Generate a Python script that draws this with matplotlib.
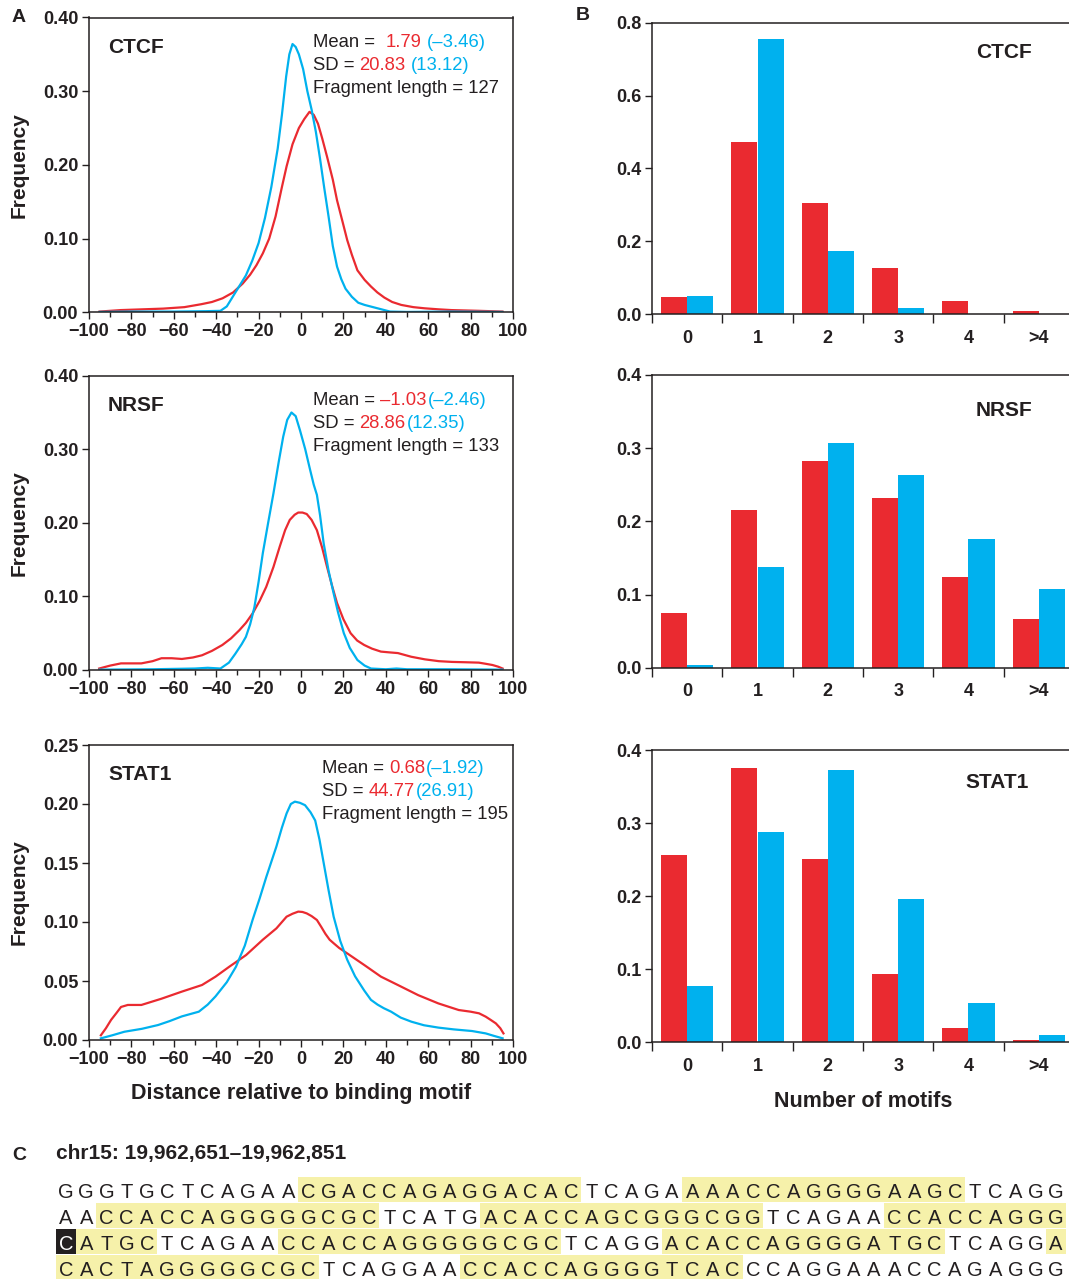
import matplotlib
matplotlib.use('Agg')
import matplotlib.pyplot as plt
from matplotlib.patches import Rectangle
from matplotlib.ticker import MultipleLocator, FixedLocator, FormatStrFormatter, NullFormatter

plt.rcParams['font.family'] = ['Liberation Sans', 'DejaVu Sans']

RED = '#EA2A30'
BLUE = '#00B1EE'
INK = '#231F20'
YELLOW = '#F6F1AA'

# ---- panel A: distance distributions ----
ctcf_red_x = [-95, -85, -75, -65, -55, -47, -42, -37, -32, -27.5, -24, -21, -18, -15, -12, -9, -6.8, -4, -1,
              1.5, 4, 6, 8, 10, 12.3, 15, 17, 19.5, 21.8, 24, 26.6, 30, 33, 36, 39.3, 43, 47.3, 53, 58.4, 65,
              71, 84, 95]
ctcf_red_y = [0.001, 0.003, 0.004, 0.005, 0.007, 0.011, 0.014, 0.019, 0.027, 0.039, 0.051, 0.064, 0.080, 0.100,
              0.130, 0.170, 0.198, 0.228, 0.250, 0.262, 0.272, 0.268, 0.256, 0.236, 0.211, 0.180, 0.152, 0.124,
              0.098, 0.078, 0.057, 0.044, 0.035, 0.027, 0.020, 0.014, 0.010, 0.007, 0.0054, 0.004, 0.003,
              0.002, 0.001]
ctcf_blue_x = [-95, -80, -60, -45, -38, -35, -32, -29, -26, -23, -20, -17, -14, -11, -9, -7, -5.5, -4, -2.5,
               -1, 1, 3, 5, 7, 9, 11, 13, 15, 17, 19, 21, 24, 27, 30, 34, 38, 42, 50, 70, 95]
ctcf_blue_y = [0.0005, 0.001, 0.001, 0.0015, 0.002, 0.008, 0.022, 0.036, 0.050, 0.070, 0.094, 0.128, 0.170,
               0.222, 0.268, 0.320, 0.350, 0.364, 0.360, 0.350, 0.330, 0.300, 0.275, 0.245, 0.208, 0.168, 0.130,
               0.090, 0.062, 0.045, 0.032, 0.021, 0.013, 0.010, 0.007, 0.004, 0.001, 0.0005, 0.001, 0.0005]

nrsf_red_x = [-95.2, -90, -84.9, -75.3, -70, -65.8, -61, -56.2, -51, -46.7, -42, -37.1, -33, -29.1, -26, -22.8,
              -19.5, -16.4, -13, -10, -7.5, -5.3, -3, -1.3, 0.7, 2.7, 5, 7.5, 10, 12.3, 14.7, 17, 20, 23.4,
              26.5, 29.8, 33.5, 37.7, 41.5, 45.7, 52, 58.4, 65, 71.2, 78, 83.9, 87, 90.3, 93, 95.1]
nrsf_red_y = [0.002, 0.006, 0.009, 0.009, 0.012, 0.016, 0.016, 0.015, 0.017, 0.020, 0.026, 0.034, 0.043, 0.054,
              0.064, 0.077, 0.094, 0.113, 0.140, 0.168, 0.190, 0.204, 0.211, 0.214, 0.214, 0.212, 0.204, 0.190,
              0.166, 0.140, 0.114, 0.091, 0.069, 0.050, 0.040, 0.034, 0.029, 0.025, 0.024, 0.023, 0.018,
              0.0145, 0.012, 0.011, 0.0105, 0.010, 0.0085, 0.0068, 0.0045, 0.002]
nrsf_blue_x = [-95, -70, -50, -44, -38, -34, -31, -28, -26, -24, -22, -20, -18, -15.5, -13, -10.5, -8.4, -6.5,
               -4.5, -2.5, -0.5, 2, 4.3, 6, 7.5, 9, 10.7, 13, 15.4, 17.5, 20.2, 23, 26.6, 30, 33, 40, 45, 50,
               70, 95]
nrsf_blue_y = [0.0005, 0.001, 0.002, 0.003, 0.002, 0.010, 0.022, 0.035, 0.045, 0.062, 0.085, 0.120, 0.159,
               0.200, 0.240, 0.283, 0.317, 0.340, 0.350, 0.345, 0.326, 0.300, 0.272, 0.252, 0.238, 0.210, 0.172,
               0.135, 0.104, 0.078, 0.050, 0.030, 0.0136, 0.006, 0.002, 0.001, 0.002, 0.001, 0.001, 0.0005]

stat1_red_x = [-94.4, -92, -89.6, -87, -84.9, -81.7, -75.3, -65.8, -56.2, -46.7, -40.3, -33.9, -25.9, -18,
               -11.6, -6.8, -4, -1.3, 0.7, 2.7, 5, 7.5, 9.5, 11.5, 13.5, 15.4, 18, 21.8, 29.8, 37.7, 45.7,
               55.3, 64.8, 74.4, 80, 84, 87.1, 89.5, 91.9, 94, 95.5]
stat1_red_y = [0.004, 0.010, 0.017, 0.023, 0.028, 0.0297, 0.0297, 0.035, 0.041, 0.0466, 0.0537, 0.062, 0.072,
               0.085, 0.0946, 0.1045, 0.107, 0.1088, 0.1085, 0.1073, 0.105, 0.1017, 0.096, 0.090, 0.085, 0.082,
               0.078, 0.0734, 0.0636, 0.0537, 0.0466, 0.038, 0.031, 0.0254, 0.024, 0.0226, 0.0198, 0.017,
               0.0141, 0.010, 0.0056]
stat1_blue_x = [-94.4, -89, -83.3, -75, -67.4, -62, -56.2, -48.2, -44, -40.3, -35, -30.7, -26.5, -22.8, -19.5,
                -16.4, -14, -11.6, -9, -6.8, -4.8, -2.9, -0.5, 1.9, 4.5, 6.7, 8.7, 10.7, 13, 15.4, 18.5, 21.8,
                25.5, 29.8, 33, 36.1, 39, 42.5, 47, 52.1, 58, 64.8, 72, 80.7, 87.1, 91, 95.1]
stat1_blue_y = [0.0014, 0.004, 0.007, 0.0095, 0.0127, 0.016, 0.020, 0.024, 0.030, 0.037, 0.049, 0.062, 0.080,
                0.102, 0.120, 0.138, 0.151, 0.164, 0.180, 0.192, 0.200, 0.202, 0.201, 0.199, 0.193, 0.186,
                0.170, 0.150, 0.127, 0.1045, 0.084, 0.068, 0.054, 0.042, 0.034, 0.030, 0.027, 0.024, 0.019,
                0.0155, 0.0125, 0.0105, 0.009, 0.0076, 0.0056, 0.0035, 0.0014]

# ---- panel B: number of motifs ----
motif_labels = ['0', '1', '2', '3', '4', '>4']
ctcf_red_bar = [0.048, 0.473, 0.306, 0.128, 0.037, 0.009]
ctcf_blue_bar = [0.051, 0.755, 0.174, 0.018, 0.002, 0.002]
nrsf_red_bar = [0.075, 0.2155, 0.2825, 0.232, 0.124, 0.0665]
nrsf_blue_bar = [0.004, 0.1377, 0.307, 0.2635, 0.176, 0.1075]
stat1_red_bar = [0.2563, 0.3755, 0.251, 0.0935, 0.020, 0.003]
stat1_blue_bar = [0.077, 0.288, 0.3727, 0.196, 0.0538, 0.010]

# ---- panel C: sequence (w = plain, y = motif highlight, k = inverted) ----
seq_title = 'chr15: 19,962,651\u201319,962,851'
seq_rows = [
    [('GGGTGCTCAGAA', 'w'), ('CGACCAGAGGACAC', 'y'), ('TCAGA', 'w'), ('AAACCAGGGGAAGC', 'y'), ('TCAGG', 'w')],
    [('AA', 'w'), ('CCACCAGGGGGCGC', 'y'), ('TCATG', 'w'), ('ACACCAGCGGGCGG', 'y'), ('TCAGAA', 'w'),
     ('CCACCAGGG', 'y')],
    [('C', 'k'), ('ATGC', 'y'), ('TCAGAA', 'w'), ('CCACCAGGGGGCGC', 'y'), ('TCAGG', 'w'),
     ('ACACCAGGGGATGC', 'y'), ('TCAGG', 'w'), ('A', 'y')],
    [('CACTAGGGGGCGC', 'y'), ('TCAGGAA', 'w'), ('CCACCAGGGGTCAC', 'y'), ('CCAGGAAACCAGAGGG', 'w')],
]

dist_panels = [
    ('CTCF', ctcf_red_x, ctcf_red_y, ctcf_blue_x, ctcf_blue_y, 0.40, 0.10,
     [[('Mean =', INK, 0), ('1.79', RED, 11), ('(\u20133.46)', BLUE, 5)],
      [('SD =', INK, 0), ('20.83', RED, 5), ('(13.12)', BLUE, 5)],
      [('Fragment length = 127', INK, 0)]]),
    ('NRSF', nrsf_red_x, nrsf_red_y, nrsf_blue_x, nrsf_blue_y, 0.40, 0.10,
     [[('Mean =', INK, 0), ('\u20131.03', RED, 5), ('(\u20132.46)', BLUE, 1)],
      [('SD =', INK, 0), ('28.86', RED, 5), ('(12.35)', BLUE, 1)],
      [('Fragment length = 133', INK, 0)]]),
    ('STAT1', stat1_red_x, stat1_red_y, stat1_blue_x, stat1_blue_y, 0.25, 0.05,
     [[('Mean =', INK, 0), ('0.68', RED, 5), ('(\u20131.92)', BLUE, 1)],
      [('SD =', INK, 0), ('44.77', RED, 5), ('(26.91)', BLUE, 1)],
      [('Fragment length = 195', INK, 0)]]),
]
bar_panels = [
    ('CTCF', ctcf_red_bar, ctcf_blue_bar, 0.8, 0.2),
    ('NRSF', nrsf_red_bar, nrsf_blue_bar, 0.4, 0.1),
    ('STAT1', stat1_red_bar, stat1_blue_bar, 0.4, 0.1),
]

W, H = 1069, 1279
fig = plt.figure(figsize=(W / 100, H / 100), dpi=100)


def px_axes(l, t, r, b):
    return fig.add_axes([l / W, 1 - b / H, (r - l) / W, (b - t) / H])


def style_axes(ax):
    for s in ax.spines.values():
        s.set_linewidth(1.1)
        s.set_color(INK)
    ax.tick_params(which='both', direction='out', color=INK, width=1.0, labelcolor=INK,
                   labelsize=13)
    ax.tick_params(which='major', length=4.8, pad=3)
    ax.tick_params(which='minor', length=3.5)
    for lab in ax.get_xticklabels() + ax.get_yticklabels():
        lab.set_fontweight('bold')


a_rows = [(17.5, 312.3), (375.7, 670.0), (745.0, 1040.0)]
a_text_y = [42, 400, 768]
a_text_x = [313, 313, 322]
b_rows = [(22.7, 314.3), (375.0, 667.7), (750.0, 1042.3)]
b_label_xy = [(1004, 53), (1004, 410), (997, 782)]

text_parts = []
for i, (name, rx, ry, bx, by, ymax, ystep, stats) in enumerate(dist_panels):
    t, b = a_rows[i]
    ax = px_axes(89, t, 513, b)
    ax.plot(rx, ry, color=RED, lw=1.6)
    ax.plot(bx, by, color=BLUE, lw=1.6)
    ax.set_xlim(-100, 100)
    ax.set_ylim(0, ymax)
    ax.xaxis.set_major_locator(MultipleLocator(20))
    ax.xaxis.set_minor_locator(MultipleLocator(10))
    ax.yaxis.set_major_locator(MultipleLocator(ystep))
    ax.yaxis.set_major_formatter(FormatStrFormatter('%.2f'))
    ax.set_ylabel('Frequency', fontsize=15, fontweight='bold', color=INK)
    ax.yaxis.set_label_coords(-0.1415, 0.5)
    if i == 2:
        ax.set_xlabel('Distance relative to binding motif', fontsize=15.5, fontweight='bold',
                      color=INK, labelpad=11)
    style_axes(ax)
    ax.text(108 / W, 1 - (t + 30) / H, name, transform=fig.transFigure, fontsize=15,
            fontweight='bold', color=INK, va='center')
    text_parts.append((a_text_x[i], a_text_y[i], stats))

    # panel B
    t, b = b_rows[i]
    name, red_v, blue_v, ymax, ystep = bar_panels[i]
    bx_ = px_axes(652, t, 1074, b)
    idx = list(range(len(motif_labels)))
    bx_.bar([k - 0.185 for k in idx], red_v, width=0.37, color=RED, linewidth=0)
    bx_.bar([k + 0.185 for k in idx], blue_v, width=0.37, color=BLUE, linewidth=0)
    bx_.set_xlim(-0.5, len(motif_labels) - 0.5)
    bx_.set_ylim(0, ymax)
    bx_.yaxis.set_major_locator(MultipleLocator(ystep))
    bx_.yaxis.set_major_formatter(FormatStrFormatter('%.1f'))
    bx_.xaxis.set_major_locator(FixedLocator([k - 0.5 for k in idx] + [len(idx) - 0.5]))
    bx_.xaxis.set_major_formatter(NullFormatter())
    bx_.xaxis.set_minor_locator(FixedLocator(idx))
    bx_.set_xticklabels(motif_labels, minor=True)
    bx_.spines['right'].set_visible(False)
    style_axes(bx_)
    bx_.tick_params(axis='x', which='major', length=6.5)
    bx_.tick_params(axis='x', which='minor', length=0, pad=11)
    for lab in bx_.get_xticklabels(minor=True):
        lab.set_fontweight('bold')
    if i == 2:
        bx_.set_xlabel('Number of motifs', fontsize=15.5, fontweight='bold', color=INK, labelpad=12)
    lx, ly = b_label_xy[i]
    fig.text(lx / W, 1 - ly / H, name, fontsize=15, fontweight='bold', color=INK,
             ha='center', va='center')

# multicoloured statistics lines
renderer = fig.canvas.get_renderer()
for x0, yc, stats in text_parts:
    for j, parts in enumerate(stats):
        x = x0
        y = yc + j * 23 + 5
        for txt, col, gap in parts:
            x += gap
            tt = fig.text(x / W, 1 - y / H, txt, color=col, fontsize=13.3, va='baseline', ha='left')
            x = tt.get_window_extent(renderer).x1

# panel letters
for letter, lx, ly in [('A', 19, 18), ('B', 583, 16), ('C', 19, 1155)]:
    fig.text(lx / W, 1 - ly / H, letter, fontsize=14, fontweight='bold', color=INK,
             ha='center', va='center')
fig.text(56 / W, 1 - 1154 / H, seq_title, fontsize=15, fontweight='bold', color=INK,
         ha='left', va='center')

# panel C sequence
axc = px_axes(56, 1176, 1066, 1281)
axc.set_xlim(-0.5, 49.5)
axc.set_ylim(3.5, -0.5)
axc.axis('off')
for r, segs in enumerate(seq_rows):
    i = 0
    for s, kind in segs:
        if kind == 'y':
            axc.add_patch(Rectangle((i - 0.5, r - 0.48), len(s), 0.96, facecolor=YELLOW, lw=0))
        elif kind == 'k':
            axc.add_patch(Rectangle((i - 0.5, r - 0.48), len(s), 0.96, facecolor=INK, lw=0))
        for ch in s:
            axc.text(i, r + 0.32, ch, ha='center', va='baseline', fontsize=14.5,
                     color='white' if kind == 'k' else INK)
            i += 1

fig.savefig('out.png', dpi=100)
